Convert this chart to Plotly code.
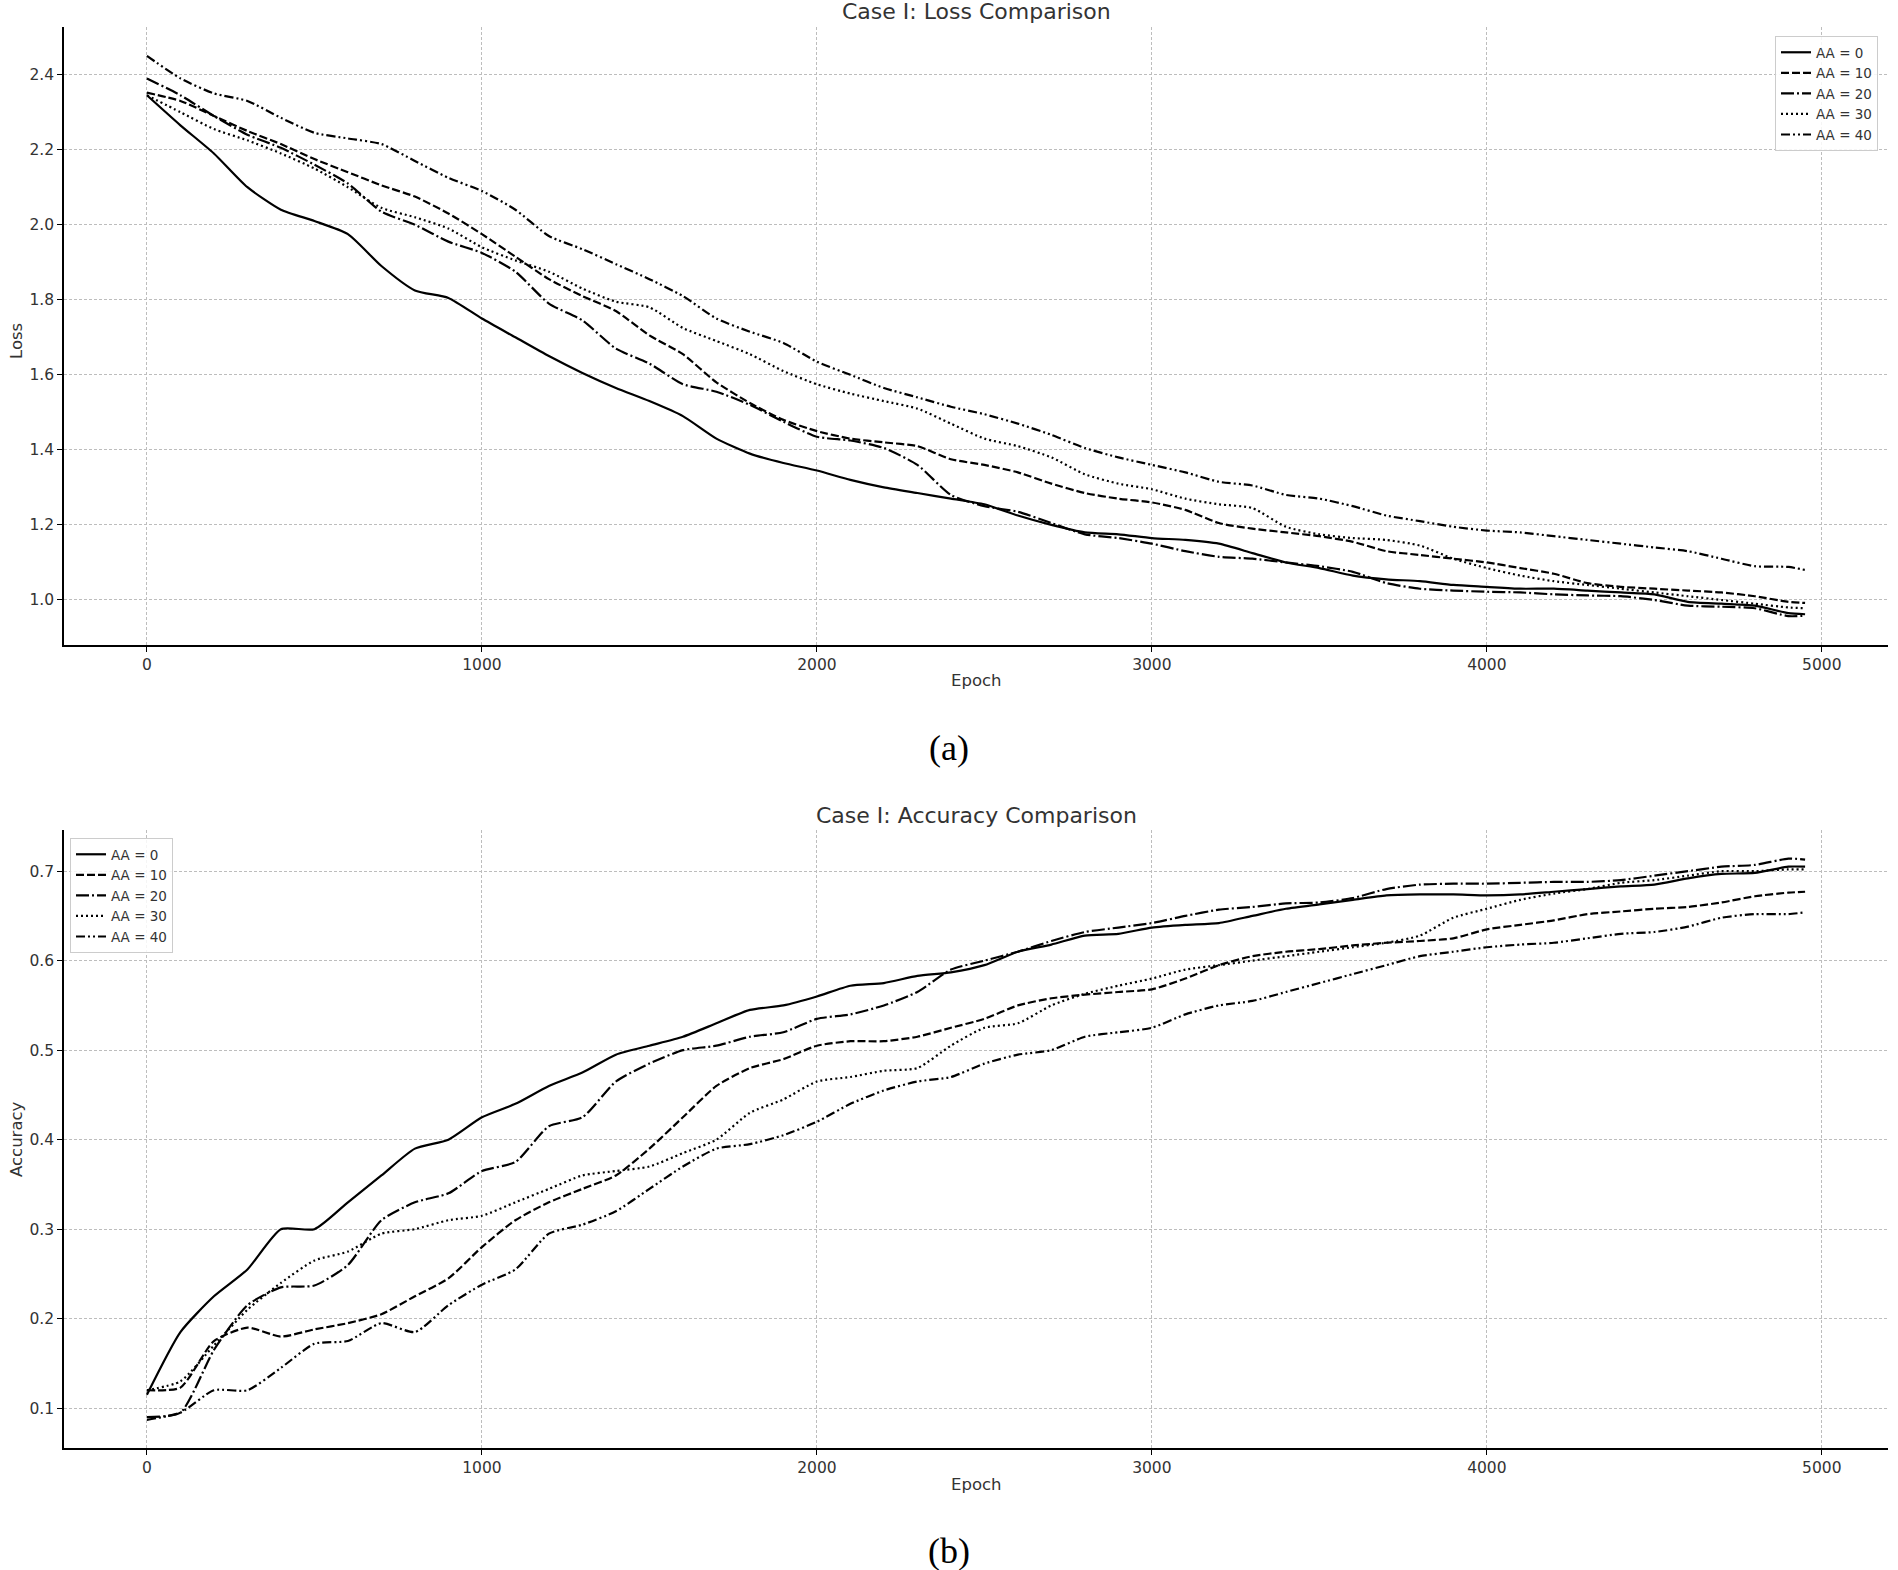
import plotly.graph_objects as go

epochs = [0, 100, 200, 300, 400, 500, 600, 700, 800, 900,
          1000, 1100, 1200, 1300, 1400, 1500, 1600, 1700, 1800, 1900,
          2000, 2100, 2200, 2300, 2400, 2500, 2600, 2700, 2800, 2900,
          3000, 3100, 3200, 3300, 3400, 3500, 3600, 3700, 3800, 3900,
          4000, 4100, 4200, 4300, 4400, 4500, 4600, 4700, 4800, 4900, 4950]

labels = ["AA = 0", "AA = 10", "AA = 20", "AA = 30", "AA = 40"]

loss_aa0 = [2.345, 2.265, 2.19, 2.10, 2.04, 2.01, 1.975, 1.89, 1.825, 1.805,
            1.75, 1.70, 1.65, 1.605, 1.565, 1.53, 1.49, 1.43, 1.39, 1.365,
            1.345, 1.32, 1.30, 1.285, 1.27, 1.255, 1.225, 1.20, 1.18, 1.175,
            1.165, 1.16, 1.15, 1.125, 1.10, 1.085, 1.065, 1.055, 1.05, 1.04,
            1.035, 1.03, 1.03, 1.025, 1.02, 1.015, 0.995, 0.99, 0.985, 0.965, 0.962]
loss_aa10 = [2.352, 2.33, 2.29, 2.25, 2.215, 2.175, 2.14, 2.105, 2.075, 2.03,
             1.975, 1.915, 1.855, 1.81, 1.77, 1.705, 1.655, 1.58, 1.525, 1.48,
             1.45, 1.43, 1.42, 1.41, 1.375, 1.36, 1.34, 1.31, 1.285, 1.27,
             1.26, 1.24, 1.205, 1.19, 1.18, 1.17, 1.155, 1.13, 1.12, 1.11,
             1.10, 1.085, 1.07, 1.045, 1.035, 1.03, 1.025, 1.02, 1.01, 0.995, 0.992]
loss_aa20 = [2.39, 2.345, 2.29, 2.24, 2.205, 2.16, 2.11, 2.035, 2.0, 1.955,
             1.925, 1.875, 1.79, 1.745, 1.67, 1.63, 1.575, 1.555, 1.52, 1.475,
             1.435, 1.425, 1.405, 1.36, 1.28, 1.25, 1.235, 1.205, 1.175, 1.165,
             1.15, 1.13, 1.115, 1.11, 1.10, 1.09, 1.075, 1.045, 1.03, 1.025,
             1.022, 1.02, 1.015, 1.012, 1.01, 1.0, 0.985, 0.982, 0.978, 0.957, 0.958]
loss_aa30 = [2.345, 2.30, 2.255, 2.225, 2.19, 2.15, 2.10, 2.045, 2.02, 1.99,
             1.94, 1.905, 1.875, 1.83, 1.795, 1.78, 1.725, 1.69, 1.655, 1.61,
             1.575, 1.55, 1.53, 1.51, 1.47, 1.43, 1.41, 1.38, 1.335, 1.31,
             1.295, 1.27, 1.255, 1.245, 1.195, 1.175, 1.165, 1.16, 1.145, 1.11,
             1.085, 1.065, 1.05, 1.04, 1.03, 1.02, 1.01, 1.0, 0.99, 0.98, 0.978]
loss_aa40 = [2.45, 2.39, 2.35, 2.33, 2.285, 2.245, 2.23, 2.215, 2.17, 2.125,
             2.09, 2.04, 1.97, 1.935, 1.895, 1.855, 1.81, 1.75, 1.715, 1.685,
             1.635, 1.60, 1.565, 1.54, 1.515, 1.495, 1.47, 1.44, 1.405, 1.38,
             1.36, 1.34, 1.315, 1.305, 1.28, 1.27, 1.25, 1.225, 1.21, 1.195,
             1.185, 1.18, 1.17, 1.16, 1.15, 1.14, 1.13, 1.11, 1.09, 1.088, 1.08]

acc_aa0 = [0.115, 0.185, 0.225, 0.255, 0.30, 0.30, 0.33, 0.36, 0.39, 0.40,
           0.425, 0.44, 0.46, 0.475, 0.495, 0.505, 0.515, 0.53, 0.545, 0.55,
           0.56, 0.572, 0.575, 0.583, 0.587, 0.595, 0.61, 0.618, 0.628, 0.63,
           0.637, 0.64, 0.642, 0.65, 0.658, 0.663, 0.668, 0.673, 0.674, 0.674,
           0.673, 0.674, 0.677, 0.68, 0.683, 0.685, 0.692, 0.697, 0.698, 0.705, 0.705]
acc_aa10 = [0.12, 0.123, 0.175, 0.19, 0.18, 0.188, 0.195, 0.205, 0.225, 0.245,
            0.28, 0.31, 0.33, 0.345, 0.36, 0.39, 0.425, 0.46, 0.48, 0.49,
            0.505, 0.51, 0.51, 0.515, 0.525, 0.535, 0.55, 0.558, 0.562, 0.565,
            0.568, 0.58, 0.595, 0.605, 0.61, 0.613, 0.617, 0.62, 0.622, 0.625,
            0.635, 0.64, 0.645, 0.652, 0.655, 0.658, 0.66, 0.665, 0.672, 0.676, 0.677]
acc_aa20 = [0.09, 0.095, 0.165, 0.215, 0.235, 0.237, 0.26, 0.31, 0.33, 0.34,
            0.365, 0.375, 0.415, 0.425, 0.465, 0.485, 0.5, 0.505, 0.515, 0.52,
            0.535, 0.54, 0.55, 0.565, 0.59, 0.6, 0.61, 0.622, 0.632, 0.637,
            0.642, 0.65, 0.657, 0.66, 0.664, 0.665, 0.67, 0.68, 0.685, 0.686,
            0.686, 0.687, 0.688, 0.688, 0.69, 0.695, 0.70, 0.705, 0.707, 0.714, 0.713]
acc_aa30 = [0.12, 0.13, 0.17, 0.21, 0.24, 0.265, 0.275, 0.295, 0.30, 0.31,
            0.315, 0.33, 0.345, 0.36, 0.365, 0.37, 0.385, 0.40, 0.43, 0.445,
            0.465, 0.47, 0.477, 0.48, 0.505, 0.525, 0.53, 0.55, 0.563, 0.572,
            0.58, 0.59, 0.595, 0.60, 0.605, 0.61, 0.615, 0.62, 0.628, 0.648,
            0.658, 0.668, 0.675, 0.68, 0.687, 0.69, 0.695, 0.70, 0.70, 0.702, 0.702]
acc_aa40 = [0.087, 0.095, 0.12, 0.12, 0.145, 0.172, 0.175, 0.195, 0.185, 0.215,
            0.238, 0.255, 0.295, 0.305, 0.32, 0.345, 0.37, 0.39, 0.395, 0.405,
            0.42, 0.44, 0.455, 0.465, 0.47, 0.485, 0.495, 0.50, 0.515, 0.52,
            0.525, 0.54, 0.55, 0.555, 0.565, 0.575, 0.585, 0.595, 0.605, 0.61,
            0.615, 0.618, 0.62, 0.625, 0.63, 0.632, 0.638, 0.648, 0.652, 0.652, 0.654]

loss_series = [loss_aa0, loss_aa10, loss_aa20, loss_aa30, loss_aa40]
acc_series = [acc_aa0, acc_aa10, acc_aa20, acc_aa30, acc_aa40]

dashes = ["solid", "8px,3px", "13px,3px,2px,3px", "2px,3px", "9px,3px,2px,3px,2px,3px"]

W, H = 1898, 1570
TXT = "#333333"
FONT = "DejaVu Sans"

fig = go.Figure()
for i in range(5):
    fig.add_trace(go.Scatter(x=epochs, y=loss_series[i], mode="lines", name=labels[i],
                             line=dict(color="black", width=2.2, dash=dashes[i], shape="spline", smoothing=0.6),
                             xaxis="x", yaxis="y", legend="legend"))
for i in range(5):
    fig.add_trace(go.Scatter(x=epochs, y=acc_series[i], mode="lines", name=labels[i],
                             line=dict(color="black", width=2.2, dash=dashes[i], shape="spline", smoothing=0.6),
                             xaxis="x2", yaxis="y2", legend="legend2"))

xd = [64 / W, 1888 / W]
top_dom = [1 - 645 / H, 1 - 27 / H]
bot_dom = [1 - 1448 / H, 1 - 830 / H]

axis_common = dict(showline=True, linecolor="black", linewidth=1.5, mirror=False,
                   showgrid=True, gridcolor="#bdbdbd", griddash="3px,2px", gridwidth=0.8,
                   ticks="outside", ticklen=5, tickcolor="black", tickwidth=1.2,
                   tickfont=dict(family=FONT, size=15.5, color=TXT), zeroline=False)

fig.update_layout(
    width=W, height=H,
    margin=dict(l=0, r=0, t=0, b=0),
    paper_bgcolor="white", plot_bgcolor="white",
    font=dict(family=FONT, color=TXT),
    xaxis=dict(domain=xd, anchor="y", range=[-247.5, 5197.5], tickvals=[0, 1000, 2000, 3000, 4000, 5000], **axis_common),
    yaxis=dict(domain=top_dom, anchor="x", range=[0.88, 2.527], tickvals=[1.0, 1.2, 1.4, 1.6, 1.8, 2.0, 2.2, 2.4],
               tickformat=".1f", **axis_common),
    xaxis2=dict(domain=xd, anchor="y2", range=[-247.5, 5197.5], tickvals=[0, 1000, 2000, 3000, 4000, 5000], **axis_common),
    yaxis2=dict(domain=bot_dom, anchor="x2", range=[0.0555, 0.746], tickvals=[0.1, 0.2, 0.3, 0.4, 0.5, 0.6, 0.7],
                tickformat=".1f", **axis_common),
    legend=dict(x=1775 / W, y=1 - 36 / H, xanchor="left", yanchor="top",
                bgcolor="rgba(255,255,255,0.85)", bordercolor="#cccccc", borderwidth=1,
                font=dict(family=FONT, size=13.5, color=TXT), tracegroupgap=0, itemwidth=30),
    legend2=dict(x=70 / W, y=1 - 838 / H, xanchor="left", yanchor="top",
                 bgcolor="rgba(255,255,255,0.85)", bordercolor="#cccccc", borderwidth=1,
                 font=dict(family=FONT, size=13.5, color=TXT), tracegroupgap=0, itemwidth=30),
    showlegend=True,
)

ann = [
    dict(text="Case I: Loss Comparison", x=976 / W, y=1 - 12 / H, font=dict(size=22, family=FONT, color=TXT)),
    dict(text="Case I: Accuracy Comparison", x=976 / W, y=1 - 815 / H, font=dict(size=22, family=FONT, color=TXT)),
    dict(text="Epoch", x=976 / W, y=1 - 680 / H, font=dict(size=16.5, family=FONT, color=TXT)),
    dict(text="Epoch", x=976 / W, y=1 - 1484 / H, font=dict(size=16.5, family=FONT, color=TXT)),
    dict(text="Loss", x=16 / W, y=1 - 341 / H, textangle=-90, font=dict(size=16.5, family=FONT, color=TXT)),
    dict(text="Accuracy", x=16 / W, y=1 - 1139 / H, textangle=-90, font=dict(size=16.5, family=FONT, color=TXT)),
    dict(text="(a)", x=949 / W, y=1 - 748 / H, font=dict(size=36, family="Liberation Serif", color="black")),
    dict(text="(b)", x=949 / W, y=1 - 1551 / H, font=dict(size=36, family="Liberation Serif", color="black")),
]
for a in ann:
    a.update(xref="paper", yref="paper", showarrow=False, xanchor="center", yanchor="middle")
    fig.add_annotation(**a)

fig.write_html("out.html", config={"displayModeBar": False},
               post_script="document.body.style.margin='0px';document.body.style.overflow='hidden';")
